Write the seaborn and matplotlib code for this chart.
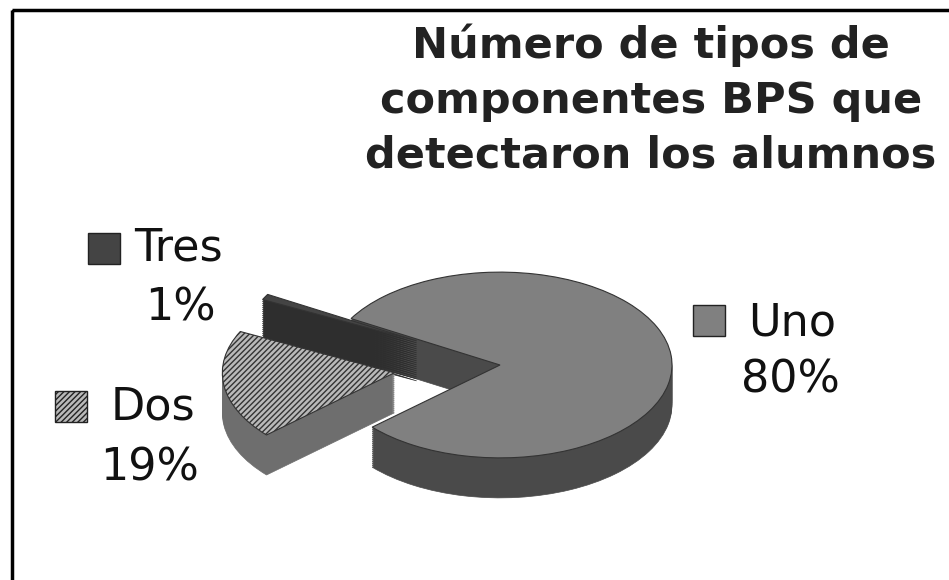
import numpy as np
import matplotlib
matplotlib.use('Agg')
import matplotlib.pyplot as plt
import seaborn as sns
from matplotlib.patches import Rectangle

# data
labels = ['Uno', 'Dos', 'Tres']
values = [80, 19, 1]
pct_labels = ['80%', '19%', '1%']
title = 'Número de tipos de\ncomponentes BPS que\ndetectaron los alumnos'

sns.set_theme(style='white')
plt.rcParams['font.family'] = ['DejaVu Sans']

top_cols = ['#808080', '#b9b9b9', '#444444']
side_cols = ['#4a4a4a', '#6e6e6e', '#2e2e2e']

W, H = 949, 580
k = 0.54          # vertical squash of the pie
cx, cy, r = 500, 365, 172
depth = 40
explode = [0, 0.62 * r, 0.55 * r]   # pie explode is in data units

fig = plt.figure(figsize=(W / 100, H / 100), dpi=100)

# pie axes (y squashed so circles become ellipses)
ax = fig.add_axes([0, 0, 1, 1])

for dz in range(depth, 0, -2):
    ws, _ = ax.pie(values, startangle=150, counterclock=False, radius=r,
                   center=(cx, (H - cy - dz) / k), explode=explode,
                   colors=side_cols, wedgeprops=dict(linewidth=0.5),
                   frame=True)
    for w, c in zip(ws, side_cols):
        w.set_edgecolor(c)

ws, _ = ax.pie(values, startangle=150, counterclock=False, radius=r,
               center=(cx, (H - cy) / k), explode=explode,
               colors=top_cols, frame=True,
               wedgeprops=dict(linewidth=0.8, edgecolor='#333333'))
ws[1].set_hatch('//////')
ax.set_xlim(0, W)
ax.set_ylim(0, H / k)
ax.set_aspect('auto')
ax.axis('off')

# overlay in pixel coordinates for text / legend keys
ov = fig.add_axes([0, 0, 1, 1], facecolor='none')
ov.set_xlim(0, W)
ov.set_ylim(H, 0)
ov.axis('off')

ov.add_patch(Rectangle((12, 10), W, H, fill=False, lw=2.5, ec='black'))

ov.text(651, 100, title, ha='center', va='center', fontsize=31,
        fontweight='bold', color='#222222', linespacing=1.38)

key_pos = {'Uno': (693, 305), 'Dos': (55, 391), 'Tres': (88, 233)}
name_pos = {'Uno': (792, 323), 'Dos': (153, 407), 'Tres': (178, 248)}
pct_pos = {'Uno': (790, 380), 'Dos': (150, 468), 'Tres': (180, 308)}
for i, lab in enumerate(labels):
    kx, ky = key_pos[lab]
    ov.add_patch(Rectangle((kx, ky), 32, 31, fc=top_cols[i], ec='#222222',
                           lw=1, hatch='//////' if lab == 'Dos' else None))
    ov.text(*name_pos[lab], lab, ha='center', va='center', fontsize=32,
            color='#111111')
    ov.text(*pct_pos[lab], pct_labels[i], ha='center', va='center',
            fontsize=32, color='#111111')

fig.savefig('out.png', dpi=100, facecolor='white')
